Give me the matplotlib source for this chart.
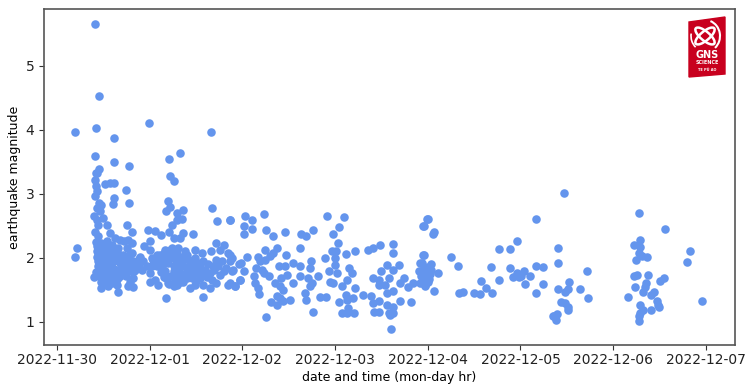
import pandas as pd
import matplotlib.pyplot as plt
from matplotlib.patches import Polygon, Ellipse, Arc

# days after 2022-11-30 00:00 and magnitude
days_upper = [.41,.45,.19,.42,.61,.99,1.66,.41,.62,.78,
              1.33,1.21,.45,.42,.43,.41,.42,.43,.41,.45,
              .48,.43,.46,.40,.43,.44,.41,.44,.50,.54,
              .52,.57,.62,.74,.62,.60,.78,1.22,1.26,1.20,
              1.22,1.18,1.36,1.30,1.35,1.29,1.24,1.21,1.26,1.36,
              1.33,1.47,1.67,1.73,1.87,.75,.81,.98,1.06,1.12,
              1.0,.94,.22,.19]
mags_upper = [5.65,4.53,3.97,4.03,3.87,4.11,3.96,3.59,3.49,3.44,
              3.64,3.55,3.39,3.33,3.32,3.22,3.12,3.04,2.96,2.855,
              2.83,2.78,2.725,2.66,2.595,2.52,2.41,2.335,2.63,2.52,
              3.16,3.17,3.17,3.06,2.93,2.845,2.855,3.28,3.20,2.89,
              2.79,2.725,2.74,2.70,2.61,2.595,2.52,2.41,2.31,2.39,
              2.31,2.375,2.78,2.57,2.59,2.51,2.40,2.43,2.42,2.36,
              2.26,2.18,2.16,2.02]

days_first = [.57,.63,.68,.77,.81,.72,.43,.48,.54,.59,
              .66,.43,.48,.555,.63,.75,.81,.43,.50,.57,
              .68,.735,.465,.54,.61,.70,.79,.45,.52,.59,
              .66,.735,.825,.90,.93,.88,.465,.54,.63,.70,
              .84,.915,.40,.48,.57,.66,.825,.50,.59,.48,
              .555,.66,.77,.825,.79,.645,.44,.46,.52,.60,
              .42,.44,.46,.47,.50,.51,.52,.53,.55,.56,
              .58,.60,.62,.63,.65,.66,.68,.45,.47,.53,
              .55,.57,.60,.64,.68,.72,.74,.72,.76,.78,
              .80,.44,.75,.71,.83,.86,.88,.78,.42,.50]
mags_first = [2.39,2.31,2.28,2.28,2.23,2.26,2.18,2.23,2.26,2.205,
              2.155,2.10,2.13,2.13,2.075,2.155,2.075,2.01,2.03,2.01,
              2.02,2.0,1.945,1.92,1.945,1.89,1.97,1.87,1.84,1.84,
              1.815,1.84,1.945,2.02,1.945,1.87,1.76,1.76,1.74,1.76,
              1.815,1.815,1.70,1.71,1.685,1.685,1.685,1.61,1.61,1.53,
              1.555,1.47,1.555,1.545,1.63,1.58,1.95,1.80,1.68,1.95,
              2.25,2.08,2.02,2.16,2.12,1.95,2.20,1.88,2.18,2.02,
              1.90,2.12,1.82,1.98,2.10,1.78,1.92,1.72,1.62,1.64,
              1.82,1.75,1.68,1.62,1.72,1.82,1.72,1.95,1.88,1.80,
              1.86,1.88,1.98,2.05,1.80,1.92,1.98,2.04,1.78,1.78]

days_second = [1.0,1.02,.97,1.0,1.04,1.08,1.0,1.095,1.11,1.17,
               1.24,1.31,1.38,1.49,1.56,1.17,1.24,1.33,1.42,1.49,
               1.11,1.20,1.29,1.36,1.47,1.54,1.17,1.26,1.33,1.42,
               1.51,1.60,1.18,1.275,1.36,1.455,1.54,1.65,1.26,1.20,
               1.44,1.49,1.36,1.58,1.65,1.18,1.58,1.72,1.80,1.76,
               1.85,1.66,1.72,1.78,1.89,1.96,1.69,1.76,1.72,1.85,
               1.92,1.89,1.82,1.97,1.13,1.15,1.19,1.21,1.22,1.27,
               1.28,1.30,1.34,1.38,1.40,1.43,1.26,1.23,1.32,1.29,
               1.39,1.45,1.48,1.52,1.15,1.21,1.30,1.33,1.40,1.50,
               1.57,1.62,1.67,1.12,1.06,1.03,1.08,1.14,1.58,1.63,
               1.68,1.74,1.80,1.06]
mags_second = [2.13,2.0,1.87,1.76,1.97,1.87,1.63,1.58,2.05,2.13,
               2.155,2.155,2.10,2.13,2.075,2.0,2.02,2.02,1.97,2.0,
               1.945,1.92,1.89,1.87,1.89,1.87,1.79,1.79,1.76,1.815,
               1.76,1.815,1.685,1.66,1.71,1.685,1.685,1.76,1.555,1.61,
               1.53,1.58,1.63,1.58,1.53,1.37,1.39,2.23,2.205,2.13,
               2.075,2.10,1.97,1.945,2.0,1.91,1.815,1.74,1.61,1.58,
               1.555,1.79,1.84,1.66,1.85,2.07,2.05,1.98,2.12,2.10,
               1.96,2.06,1.95,1.98,2.05,1.90,1.88,1.72,1.84,1.70,
               1.76,1.76,1.80,1.92,1.70,1.60,1.58,1.62,1.68,1.64,
               1.78,1.70,1.66,1.78,1.95,1.88,2.05,1.96,1.95,1.90,
               1.88,1.88,1.80,1.65]

days_third = [1.87,2.03,2.10,2.02,2.10,2.02,2.23,2.25,2.33,2.46,
              2.63,2.69,2.76,2.91,3.10,3.04,2.98,3.03,3.22,3.36,
              3.41,3.48,3.62,3.63,3.96,3.99,2.62,2.37,2.24,2.47,
              2.33,2.30,2.17,2.05,1.99,1.87,1.87,1.90,2.02,1.97,
              1.92,1.87,2.19,2.24,2.15,2.21,2.12,2.23,2.29,2.14,
              2.17,2.18,2.39,2.46,2.55,2.62,2.74,2.73,2.89,2.97,
              3.01,3.0,3.0,2.93,3.02,3.12,3.15,3.18,3.13,3.07,
              2.95,2.98,2.35,2.42,2.48,2.55,2.62,2.71,2.82,2.75,
              2.68,2.73,2.41,2.44,2.37,2.41,2.51,2.44,2.31,2.37,
              2.69,2.84,2.90,3.04,3.12,3.19,3.13,3.22,3.30,3.39,
              3.41,3.47,3.56,3.62,3.42,3.47,3.58,3.63,3.59,3.70,
              3.82,3.07,3.13,3.20,3.14,2.76,2.25,3.60,3.41,3.47,
              3.50,3.56,3.63,3.69,3.58,3.47,3.54,3.63,3.56,3.70,
              3.74,3.79,3.84,3.90,3.94,3.96,3.94,3.99,3.97,4.03,
              3.96,3.98,4.0,3.94,4.02,3.97,3.95,4.0]
mags_third = [2.585,2.66,2.59,2.50,2.45,2.375,2.69,2.43,2.335,2.40,
              2.375,2.335,2.43,2.66,2.64,2.48,2.375,2.225,2.11,2.13,
              2.155,2.20,2.22,2.07,2.49,2.60,2.155,2.16,2.12,2.05,
              2.075,2.03,2.01,2.01,1.92,2.05,1.945,1.815,1.79,1.66,
              1.565,1.61,1.945,1.97,1.84,1.815,1.72,1.76,1.72,1.61,
              1.53,1.44,1.87,1.87,1.92,1.87,1.955,1.84,2.0,2.10,
              2.10,2.0,1.89,1.79,1.76,2.065,1.84,1.76,1.66,1.555,
              1.63,1.61,1.61,1.685,1.74,1.61,1.71,1.685,1.71,1.61,
              1.45,1.555,1.555,1.50,1.41,1.37,1.35,1.32,1.31,1.26,
              1.35,1.39,1.39,1.31,1.415,1.37,1.35,1.53,1.42,1.40,
              1.295,1.33,1.26,1.24,1.155,1.155,1.14,1.14,1.11,1.33,
              1.31,1.14,1.14,1.14,1.22,1.16,1.08,.885,1.685,1.66,
              1.79,1.89,1.815,1.89,1.685,1.58,1.58,1.48,1.45,1.61,
              1.685,1.545,1.61,1.79,1.71,2.05,1.92,1.66,1.58,1.815,
              1.85,1.72,1.62,1.78,1.75,1.60,1.65,1.85]

days_late = [4.0,3.95,4.07,4.06,3.95,3.92,4.03,3.99,4.11,3.93,
             3.97,4.01,3.92,3.97,4.07,4.25,4.33,4.34,4.38,4.50,
             4.56,4.57,4.63,4.69,4.68,4.77,4.77,4.89,4.96,4.89,
             4.96,4.92,4.98,5.04,5.01,5.10,5.05,5.17,5.17,5.24,
             5.40,5.40,5.24,5.17,5.47,5.41,5.48,5.52,5.51,5.64,
             5.72,5.73,5.44,5.48,5.51,5.51,5.35,5.39,5.38,5.36,
             6.28,6.56,6.29,6.22,6.29,6.83,6.80,6.37,6.31,6.25,
             6.28,6.22,6.26,6.38,6.50,6.55,6.35,6.34,6.24,6.32,
             6.44,6.41,6.16,6.96,6.47,6.48,6.49,6.29,6.32,6.41,
             6.29,6.28,6.28]
mags_late = [2.605,2.49,2.41,2.375,2.04,1.92,1.91,1.79,1.76,1.71,
             1.685,1.67,1.61,1.555,1.49,2.01,1.87,1.45,1.47,1.45,
             1.43,1.64,1.53,1.45,1.85,1.66,2.14,2.14,2.26,1.835,
             1.76,1.70,1.70,1.80,1.72,1.715,1.585,2.605,1.87,1.85,
             2.16,1.915,1.585,1.45,3.01,1.51,1.47,1.63,1.52,1.51,
             1.795,1.375,1.315,1.295,1.24,1.19,1.10,1.13,1.025,1.09,
             2.70,2.45,2.28,2.20,2.17,2.11,1.93,2.01,2.03,1.97,
             2.07,1.72,1.74,1.73,1.64,1.68,1.61,1.55,1.54,1.47,
             1.47,1.42,1.39,1.33,1.32,1.27,1.23,1.26,1.19,1.18,
             1.14,1.09,1.02]

tick_dates = ['2022-11-30', '2022-12-01', '2022-12-02', '2022-12-03',
              '2022-12-04', '2022-12-05', '2022-12-06', '2022-12-07']

all_days = days_upper + days_first + days_second + days_third + days_late
all_mags = mags_upper + mags_first + mags_second + mags_third + mags_late
times = pd.Timestamp('2022-11-30') + pd.to_timedelta(all_days, unit='D')

fig = plt.figure(figsize=(7.5, 3.92), dpi=100)
ax = fig.add_axes([44/750, 1-345/392, 691/750, 336/392])
ax.scatter(times, all_mags, s=38, color='cornflowerblue', linewidths=0)

start = pd.Timestamp('2022-11-30')
ax.set_xlim(start - pd.Timedelta(days=0.14), start + pd.Timedelta(days=7.314))
ax.set_ylim(0.64, 5.885)
ax.set_xticks(pd.to_datetime(tick_dates))
ax.set_xticklabels(tick_dates)
ax.set_yticks([1, 2, 3, 4, 5])
ax.set_xlabel('date and time (mon-day hr)', labelpad=2.5, fontsize=9)
ax.set_ylabel('earthquake magnitude', labelpad=3, fontsize=9)
ax.tick_params(labelsize=10, color='#333333', labelcolor='#222222')
ax.tick_params(axis='x', pad=2.5)
for s in ax.spines.values():
    s.set_color('#555555')
    s.set_linewidth(1.2)

# logo, top right
logo = fig.add_axes([688/750, 1-78/392, 38/750, 62/392])
logo.set_xlim(0, 38)
logo.set_ylim(62, 0)
logo.axis('off')
logo.add_patch(Polygon([(1, 6), (37, 1), (37, 58), (1, 61)], color='#c8001e'))
logo.add_patch(Ellipse((17, 20), 24, 9, angle=40, fill=False, ec='white', lw=1.8))
logo.add_patch(Ellipse((17, 20), 24, 9, angle=-40, fill=False, ec='white', lw=1.8))
logo.add_patch(Arc((17, 20), 30, 32, theta1=-70, theta2=50, ec='white', lw=1.5))
logo.add_patch(Arc((17, 20), 28, 30, theta1=130, theta2=190, ec='white', lw=1.2))
logo.text(19, 39, 'GNS', color='white', fontsize=7, fontweight='bold', ha='center', va='center')
logo.text(19, 47, 'SCIENCE', color='white', fontsize=3.5, fontweight='bold', ha='center', va='center')
logo.text(19, 54, 'TE PŪ AO', color='white', fontsize=2.5, fontweight='bold', ha='center', va='center')

plt.savefig('out.png', dpi=100)
plt.close()
